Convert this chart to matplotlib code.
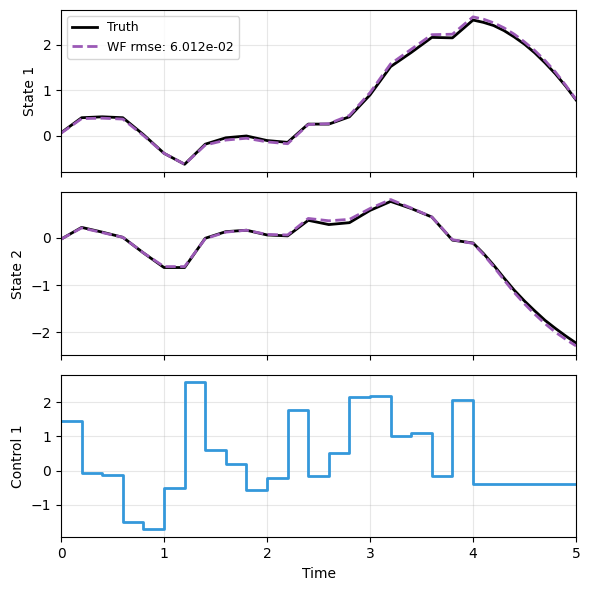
import numpy as np
import matplotlib
matplotlib.use("Agg")
import matplotlib.pyplot as plt

# State time grid (0.2 steps to t=4, then 0.1 steps)
t_state = [0.0, 0.2, 0.4, 0.6, 0.8, 1.0, 1.2, 1.4, 1.6, 1.8, 2.0, 2.2, 2.4, 2.6, 2.8,
           3.0, 3.2, 3.4, 3.6, 3.8, 4.0, 4.1, 4.2, 4.3, 4.4, 4.5, 4.6, 4.7, 4.8, 4.9, 5.0]

state1_truth = [0.07, 0.40, 0.42, 0.40, 0.03, -0.38, -0.62, -0.18, -0.04, 0.00, -0.10, -0.14,
                0.26, 0.26, 0.42, 0.90, 1.52, 1.83, 2.16, 2.15, 2.54,
                2.49, 2.42, 2.31, 2.17, 2.01, 1.82, 1.60, 1.36, 1.09, 0.79]
state1_wf = [0.06, 0.38, 0.39, 0.37, 0.01, -0.38, -0.62, -0.20, -0.09, -0.05, -0.13, -0.17,
             0.25, 0.27, 0.45, 0.95, 1.58, 1.90, 2.22, 2.23, 2.61,
             2.56, 2.48, 2.37, 2.23, 2.06, 1.87, 1.65, 1.40, 1.11, 0.80]

state2_truth = [-0.03, 0.22, 0.12, 0.01, -0.32, -0.63, -0.63, -0.01, 0.13, 0.16, 0.06, 0.04,
                0.37, 0.28, 0.32, 0.58, 0.77, 0.62, 0.44, -0.05, -0.11,
                -0.33, -0.58, -0.85, -1.11, -1.34, -1.55, -1.75, -1.92, -2.08, -2.23]
state2_wf = [-0.03, 0.21, 0.11, 0.01, -0.32, -0.61, -0.61, -0.02, 0.12, 0.16, 0.07, 0.06,
             0.41, 0.36, 0.39, 0.62, 0.81, 0.63, 0.44, -0.04, -0.12,
             -0.35, -0.61, -0.89, -1.16, -1.40, -1.62, -1.82, -2.00, -2.15, -2.29]

# Control (piecewise constant on 0.2 intervals, constant after t=4)
t_control = [0.0, 0.2, 0.4, 0.6, 0.8, 1.0, 1.2, 1.4, 1.6, 1.8, 2.0, 2.2, 2.4, 2.6, 2.8,
             3.0, 3.2, 3.4, 3.6, 3.8, 4.0, 5.0]
control1 = [1.46, -0.06, -0.12, -1.50, -1.72, -0.52, 2.58, 0.61, 0.19, -0.56, -0.22, 1.77,
            -0.17, 0.53, 2.16, 2.18, 1.02, 1.09, -0.17, 2.07, -0.38, -0.38]

rmse_label = "WF rmse: 6.012e-02"

fig, axes = plt.subplots(3, 1, figsize=(5.89, 5.90), dpi=100, sharex=True)
fig.subplots_adjust(left=0.1036, right=0.978, top=0.983, bottom=0.0893, hspace=0.123)

ax = axes[0]
ax.plot(t_state, state1_truth, color="black", lw=2, label="Truth")
ax.plot(t_state, state1_wf, color="#9b59b6", lw=2, ls="--", label=rmse_label)
ax.set_ylabel("State 1")
ax.set_ylim(-0.80, 2.76)
ax.grid(True, alpha=0.3)
ax.legend(loc="upper left", fontsize=9)

ax = axes[1]
ax.plot(t_state, state2_truth, color="black", lw=2)
ax.plot(t_state, state2_wf, color="#9b59b6", lw=2, ls="--")
ax.set_ylabel("State 2")
ax.set_ylim(-2.48, 0.96)
ax.grid(True, alpha=0.3)

ax = axes[2]
ax.step(t_control, control1, where="post", color="#3498db", lw=2)
ax.set_ylabel("Control 1")
ax.set_ylim(-1.95, 2.80)
ax.set_xlabel("Time")
ax.grid(True, alpha=0.3)
ax.set_xlim(0, 5)

fig.savefig("out.png", dpi=100)
